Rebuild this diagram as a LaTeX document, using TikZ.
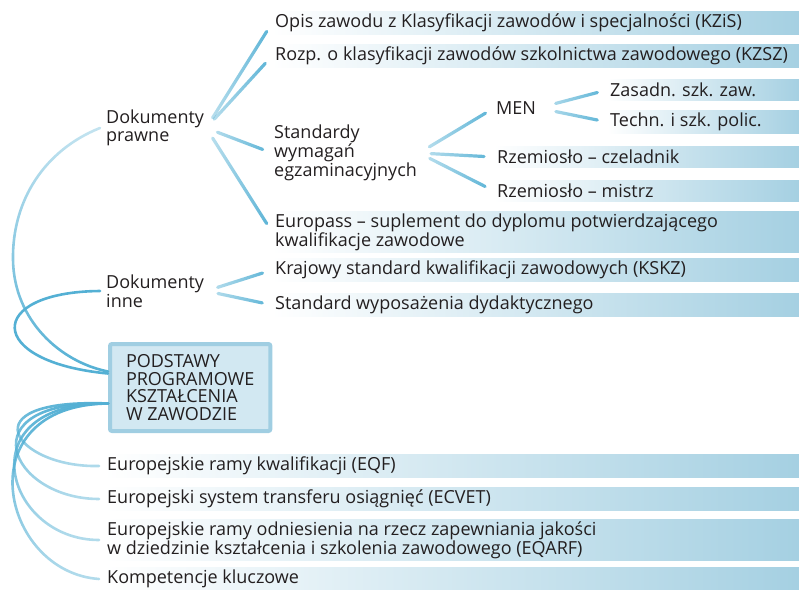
\documentclass[tikz,border=0pt]{standalone}
\usepackage{fontspec}
\setmainfont{Open Sans}
\usetikzlibrary{positioning,backgrounds,fadings}

\definecolor{inkgray}{RGB}{35,31,32}
\definecolor{barblue}{RGB}{165,208,226}
\definecolor{linkblue}{RGB}{84,176,212}
\definecolor{boxfill}{RGB}{210,232,242}
\definecolor{boxline}{RGB}{160,206,226}

\tikzfading[name=fadein, left color=transparent!65, right color=transparent!0]
\tikzfading[name=fadeup, top color=transparent!65, bottom color=transparent!0]
\tikzfading[name=fadedown, top color=transparent!0, bottom color=transparent!55]

\begin{document}
\begin{tikzpicture}[x=1pt, y=-1pt,
        every node/.style={font=\fontsize{18}{17.5}\selectfont, text=inkgray},
        item/.style={anchor=west, align=left, inner xsep=3pt, inner ysep=2pt, minimum height=21pt},
        branch/.style={anchor=west, align=left, inner sep=2pt},
        hub/.style={anchor=north west, align=left, fill=boxfill, draw=boxline, line width=4pt, rounded corners=2pt, inner xsep=16pt, minimum height=87pt},
        bar/.style={left color=white, right color=barblue},
        link/.style={linkblue, line width=3.2pt, line cap=round, path fading=fadein, shorten <=12pt, shorten >=10pt},
        arc/.style={linkblue, line width=2.6pt, line cap=round},
    ]
    \useasboundingbox (0,0) rectangle (799,589);
    \coordinate (edge) at (799,0);

    % Column x-positions
    \def\colA{104}  % branches left, European items
    \def\colB{272}  % first level leaves
    \def\colC{494}  % MEN, Rzemioslo
    \def\colD{607}  % MEN leaves

    % ===== Dokumenty prawne =====
    \node[branch] (prawne) at (\colA, 128) {Dokumenty\\prawne};
    \node[item] (opis) at (\colB, 23) {Opis zawodu z Klasyfikacji zawodów i specjalności (KZiS)};
    \node[item] (rozp) at (\colB, 56) {Rozp. o klasyfikacji zawodów szkolnictwa zawodowego (KZSZ)};
    \node[branch] (standardy) at (\colB, 153) {Standardy\\wymagań\\egzaminacyjnych};
    \node[item] (europass) at (\colB, 232) {Europass – suplement do dyplomu potwierdzającego\\kwalifikacje zawodowe};

    % Standardy -> MEN / Rzemioslo
    \node[branch] (men) at (\colC, 108) {MEN};
    \node[item] (zasadn) at (\colD, 90) {Zasadn. szk. zaw.};
    \node[item] (techn) at (\colD, 122) {Techn. i szk. polic.};
    \node[item] (czel) at (\colC, 157) {Rzemiosło – czeladnik};
    \node[item] (mistrz) at (\colC, 191) {Rzemiosło – mistrz};

    % ===== Dokumenty inne =====
    \node[branch] (inne) at (\colA, 291) {Dokumenty\\inne};
    \node[item] (krajowy) at (\colB, 270) {Krajowy standard kwalifikacji zawodowych (KSKZ)};
    \node[item] (wypos) at (\colB, 305) {Standard wyposażenia dydaktycznego};

    % ===== Central box =====
    \node[hub] (hub) at (108, 342) {PODSTAWY\\PROGRAMOWE\\KSZTAŁCENIA\\W ZAWODZIE};

    % ===== European frameworks =====
    \node[item] (eqf) at (\colA, 466) {Europejskie ramy kwalifikacji (EQF)};
    \node[item] (ecvet) at (\colA, 499) {Europejski system transferu osiągnięć (ECVET)};
    \node[item] (eqarf) at (\colA, 540) {Europejskie ramy odniesienia na rzecz zapewniania jakości\\w dziedzinie kształcenia i szkolenia zawodowego (EQARF)};
    \node[item] (kluczowe) at (\colA, 579) {Kompetencje kluczowe};

    % Bars behind the leaves
    \begin{scope}[on background layer]
        \foreach \n in {opis,rozp,zasadn,techn,czel,mistrz,europass,krajowy,wypos,eqf,ecvet,eqarf,kluczowe}
            \shade[bar] (\n.south west) rectangle (\n.north -| edge);
    \end{scope}

    % ===== Straight links =====
    \draw[link] (prawne.east) -- (opis.west);
    \draw[link] (prawne.east) -- (rozp.west);
    \draw[link] (prawne.east) -- (standardy.west);
    \draw[link] (prawne.east) -- (europass.west);
    \draw[link] (standardy.east) -- (men.west);
    \draw[link] (standardy.east) -- (czel.west);
    \draw[link] (standardy.east) -- (mistrz.west);
    \draw[link, shorten <=18pt] (men.east) -- (zasadn.west);
    \draw[link, shorten <=18pt] (men.east) -- (techn.west);
    \draw[link] (inne.east) -- (krajowy.west);
    \draw[link] (inne.east) -- (wypos.west);

    % ===== Arcs to the central box =====
    \draw[arc, path fading=fadeup] ([xshift=-4pt]prawne.west) .. controls (45,150) and (12,200) .. (13,260) .. controls (14,320) and (60,362) .. ([yshift=16pt]hub.west);
    \draw[arc] ([xshift=-4pt]inne.west) .. controls (-15,292) and (-15,362) .. ([yshift=14pt]hub.west);
    \draw[arc, path fading=fadedown] ([yshift=-16pt]hub.west) .. controls (-35,398) and (15,468) .. ([xshift=-5pt]eqf.west);
    \draw[arc, path fading=fadedown] ([yshift=-16pt]hub.west) .. controls (-35,400) and (10,499) .. ([xshift=-5pt]ecvet.west);
    \draw[arc, path fading=fadedown] ([yshift=-16pt]hub.west) .. controls (-35,402) and (5,540) .. ([xshift=-5pt]eqarf.west);
    \draw[arc, path fading=fadedown] ([yshift=-16pt]hub.west) .. controls (-35,405) and (0,572) .. ([xshift=-5pt]kluczowe.west);

\end{tikzpicture}
\end{document}
